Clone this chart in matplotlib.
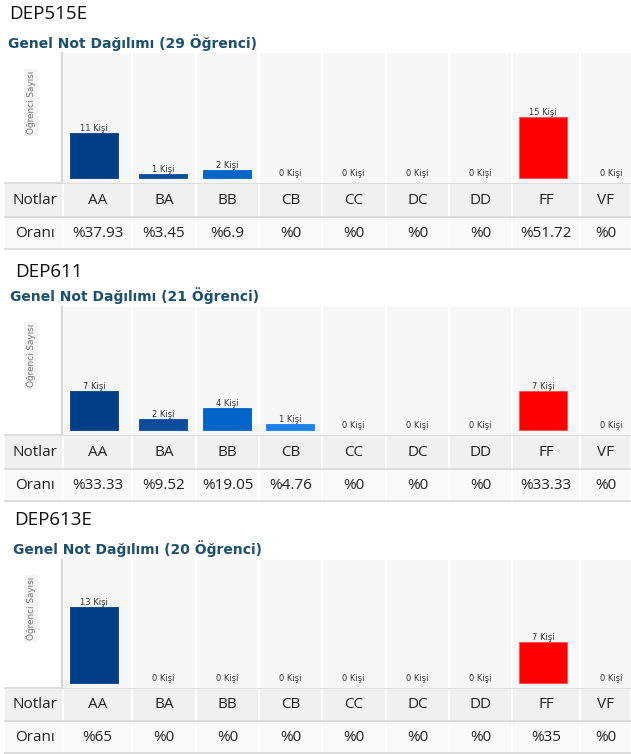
import matplotlib.pyplot as plt
from matplotlib.patches import Rectangle

# grade categories and bar colours
grades = ['AA', 'BA', 'BB', 'CB', 'CC', 'DC', 'DD', 'FF', 'VF']
grade_colors = ['#003f87', '#0a4c9c', '#0064c8', '#1a80f0', '#3399ff',
                '#66b2ff', '#99ccff', '#ff0000', '#808080']

# data per course
courses = ['DEP515E', 'DEP611', 'DEP613E']
totals = [29, 21, 20]
counts_515 = [11, 1, 2, 0, 0, 0, 0, 15, 0]
counts_611 = [7, 2, 4, 1, 0, 0, 0, 7, 0]
counts_613 = [13, 0, 0, 0, 0, 0, 0, 7, 0]
pct_515 = ['%37.93', '%3.45', '%6.9', '%0', '%0', '%0', '%0', '%51.72', '%0']
pct_611 = ['%33.33', '%9.52', '%19.05', '%4.76', '%0', '%0', '%0', '%33.33', '%0']
pct_613 = ['%65', '%0', '%0', '%0', '%0', '%0', '%0', '%35', '%0']
all_counts = [counts_515, counts_611, counts_613]
all_pcts = [pct_515, pct_611, pct_613]

# layout in pixels (image is 631 x 754)
W, H = 631, 754
edges = [63, 132, 196, 259, 322, 386, 449, 512, 580, 631]
# title / subtitle positions, chart top, baseline, chart bottom, row bottoms
panels = [
    dict(tx=9, ty=14, sx=8, sy=43, top=53, base=178, bot=183, r1=216, r2=249),
    dict(tx=15, ty=272, sx=10, sy=296, top=307, base=430, bot=435, r1=468, r2=501),
    dict(tx=14, ty=520, sx=13, sy=549, top=560, base=683, bot=688, r1=720, r2=753),
]

title_font = 'Open Sans'
table_font = 'Open Sans'
sub_color = '#1d4f6f'

fig = plt.figure(figsize=(6.31, 7.54), dpi=100)
bg = fig.add_axes([0, 0, 1, 1])
bg.set_xlim(0, W)
bg.set_ylim(H, 0)
bg.axis('off')

for k, p in enumerate(panels):
    counts = all_counts[k]
    pcts = all_pcts[k]

    bg.text(p['tx'], p['ty'], courses[k], fontsize=13.5, family=title_font,
            va='center', ha='left', color='#111111')
    bg.text(p['sx'], p['sy'], f'Genel Not Dağılımı ({totals[k]} Öğrenci)',
            fontsize=10, fontweight='bold', family='DejaVu Sans',
            va='center', ha='left', color=sub_color)

    # y-axis label column
    mid = p['top'] + 0.38 * (p['bot'] - p['top'])
    bg.text(31, mid, 'Öğrenci Sayısı', rotation=90, fontsize=6.4,
            va='center', ha='center', color='#777777',
            bbox=dict(boxstyle='square,pad=0.25', fc='#f4f4f4', ec='none'))
    bg.plot([62, 62], [p['top'], p['bot']], color='#d6d6d6', lw=1.6)

    # chart area
    ax = fig.add_axes([edges[0] / W, 1 - p['bot'] / H,
                       (W - edges[0]) / W, (p['bot'] - p['top']) / H])
    ymax = totals[k] * 1.055
    scale = (p['base'] - p['top']) / ymax
    ax.set_xlim(edges[0], W)
    ax.set_ylim(-(p['bot'] - p['base']) / scale, ymax)
    ax.set_facecolor('#f7f7f7')
    for s in ax.spines.values():
        s.set_visible(False)
    ax.set_xticks([])
    ax.set_yticks([])
    for e in edges[1:-1]:
        ax.axvline(e, color='white', lw=1.6)

    lefts = [e + 7 for e in edges[:-1]]
    ax.bar(lefts, counts, width=48, align='edge', color=grade_colors,
           edgecolor=[c if c != '#ff0000' else '#ff5050' for c in grade_colors],
           linewidth=[0.6 if c > 0 else 0 for c in counts])
    for x, c in zip(lefts, counts):
        ax.text(x + 24, c, f'{c} Kişi', fontsize=6, ha='center', va='bottom',
                color='#333333')

    # table rows
    rows = [('Notlar', grades, p['bot'] + 1, p['r1'], '#f0f0f0'),
            ('Oranı', pcts, p['r1'] + 2, p['r2'], '#f9f9f9')]
    for label, vals, y0, y1, fc in rows:
        bg.add_patch(Rectangle((5, y0), edges[0] - 6, y1 - y0, fc=fc, ec='none'))
        bg.text(35, (y0 + y1) / 2, label, fontsize=11, family=table_font,
                ha='center', va='center', color='#222222')
        for i, v in enumerate(vals):
            bg.add_patch(Rectangle((edges[i] + 1, y0), edges[i + 1] - edges[i] - 2,
                                   y1 - y0, fc=fc, ec='none'))
            bg.text((edges[i] + edges[i + 1]) / 2, (y0 + y1) / 2, v,
                    fontsize=11, family=table_font, ha='center', va='center',
                    color='#222222')
    for yl in (p['bot'], p['r1'] + 1, p['r2']):
        bg.plot([5, W], [yl, yl], color='#dcdcdc', lw=1.4)

fig.savefig('out.png', dpi=100)
